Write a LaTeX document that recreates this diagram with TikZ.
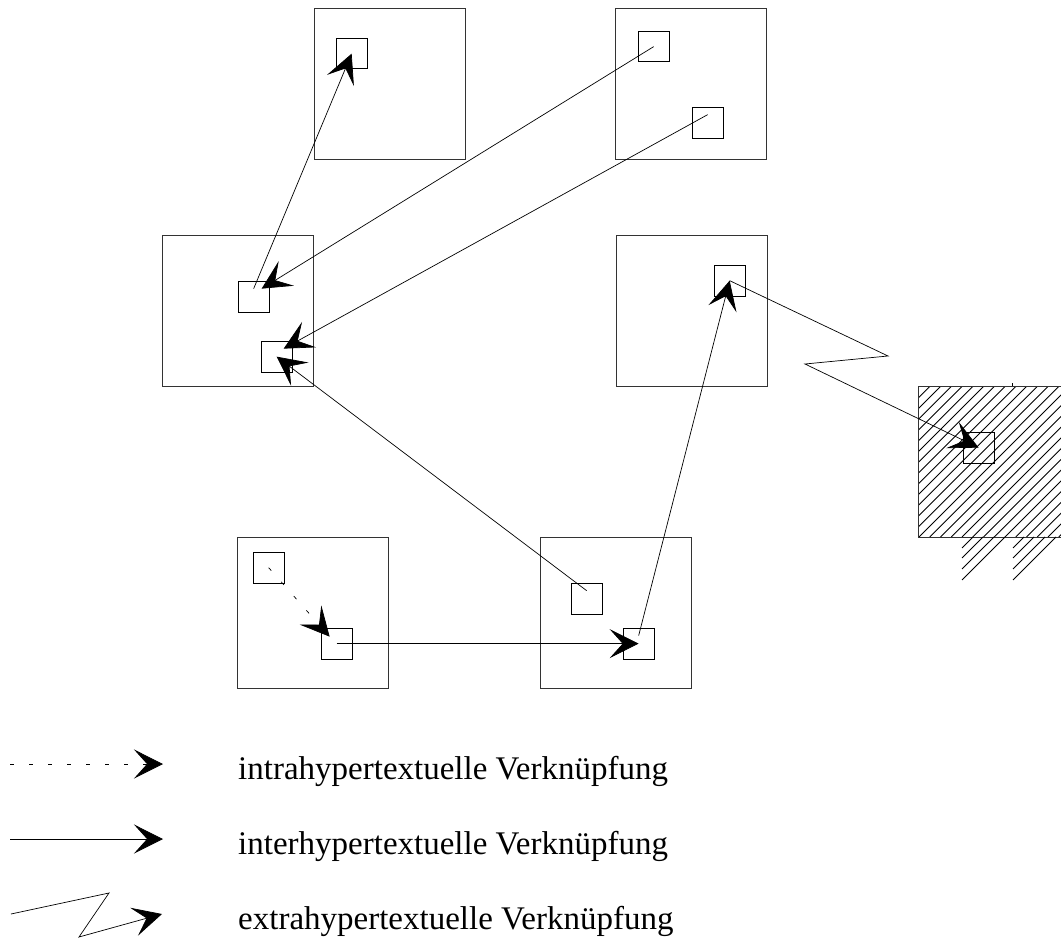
\documentclass[tikz,border=0pt]{standalone}
\usepackage{fontspec}
\setmainfont{Liberation Serif}
\usetikzlibrary{arrows.meta,calc}
\begin{document}
\begin{tikzpicture}[x=1pt,y=-1pt,
  bigbox/.style={draw=black!80, line width=0.9pt, minimum size=151pt, inner sep=0pt, anchor=north west},
  smallbox/.style={draw, line width=0.8pt, minimum size=30.5pt, inner sep=0pt, anchor=north west},
  link/.style={line width=0.7pt, -{Stealth[length=29pt,width=29pt,inset=13pt]}},
  intra/.style={link, dash pattern=on 4pt off 15pt},
  hatch/.style={line width=0.8pt},
  lbl/.style={anchor=base west, font=\fontsize{33}{38}\selectfont, inner sep=0pt}]
\useasboundingbox (0,0) rectangle (1061,942);
\fill[white] (0,0) rectangle (1061,942);

% big boxes
\node[bigbox] (B1) at (314,8) {};
\node[bigbox] (B2) at (615,8) {};
\node[bigbox] (B3) at (162,235) {};
\node[bigbox] (B4) at (616,235) {};
\node[bigbox] (B5) at (237,537) {};
\node[bigbox] (B6) at (540,537) {};

% hatched box (external)
\begin{scope}
  \clip (918,386) rectangle (1061,537);
  \foreach \i in {0,...,28}
    \draw[hatch] ({1305.5+10.75*\i-537},537) -- ({1305.5+10.75*\i-386},386);
\end{scope}
\draw[line width=0.9pt, draw=black!80] (1061,386) -- (918,386) -- (918,537) -- (1061,537);
\draw[line width=0.6pt] (1012,383) -- (1012,386);
\foreach \c in {1510,1520,1531,1542}
  \draw[hatch] (962,{\c-962}) -- ({\c-537},537);
\foreach \c in {1561,1571,1582,1593}
  \draw[hatch] (1013,{\c-1013}) -- ({\c-537},537);

% small boxes
\node[smallbox] (a) at (336,38) {};
\node[smallbox] (b) at (638,31) {};
\node[smallbox] (c) at (692,107) {};
\node[smallbox] (d) at (238,281) {};
\node[smallbox] (e) at (261,341) {};
\node[smallbox] (f) at (714,265) {};
\node[smallbox] (g) at (253,552) {};
\node[smallbox] (h) at (321,628) {};
\node[smallbox] (i) at (571,583) {};
\node[smallbox] (j) at (623,628) {};
\node[smallbox] (k) at (963,432) {};

% links
\draw[link] ($(d.center)+(0,-8)$) -- (a.center);
\draw[link] (b.center) -- ($(d.center)+(8,-8)$);
\draw[link] ($(c.center)+(0,-8)$) -- ($(e.center)+(7,-8)$);
\draw[link] ($(i.center)+(0,-8)$) -- (e.center);
\draw[link] ($(j.center)+(0,-8)$) -- (f.center);
\draw[link] (h.center) -- (j.center);
\draw[intra] (g.center) -- ($(h.center)+(-7,-7)$);
\coordinate (z1) at (888,356);
\coordinate (z2) at (805,364);
\draw[link] (f.center) -- (z1) -- (z2) -- (k.center);

% legend
\coordinate (L1s) at (10,764);
\coordinate (L1e) at (163,764);
\coordinate (L2s) at (10,839);
\coordinate (L2e) at (163,839);
\coordinate (L3s) at (11,914);
\coordinate (L3a) at (109,893);
\coordinate (L3b) at (79,937);
\coordinate (L3e) at (162,914);
\draw[intra] (L1s) -- (L1e);
\draw[link] (L2s) -- (L2e);
\draw[link] (L3s) -- (L3a) -- (L3b) -- (L3e);
\node[lbl] (t1) at (238,779) {intrahypertextuelle Verknüpfung};
\node[lbl] (t2) at (238,854) {interhypertextuelle Verknüpfung};
\node[lbl] (t3) at (238,929) {extrahypertextuelle Verknüpfung};
\end{tikzpicture}
\end{document}
